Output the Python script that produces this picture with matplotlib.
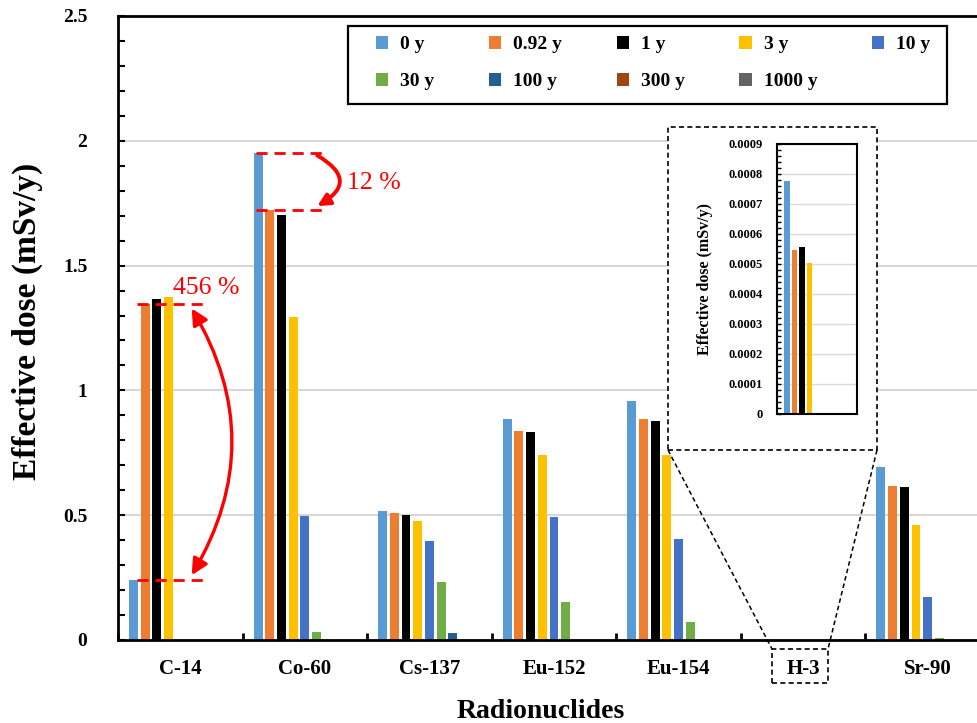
import numpy as np
import matplotlib.pyplot as plt
from matplotlib.patches import FancyArrowPatch, Rectangle
from matplotlib.lines import Line2D
from matplotlib.ticker import MultipleLocator, AutoMinorLocator, FuncFormatter

plt.rcParams['font.family'] = ['Liberation Serif', 'DejaVu Serif']

# data (mSv/y)
nuclides = ["C-14", "Co-60", "Cs-137", "Eu-152", "Eu-154", "H-3", "Sr-90"]
periods = ["0 y", "0.92 y", "1 y", "3 y", "10 y", "30 y", "100 y", "300 y", "1000 y"]
colors = ["#5B9BD5", "#ED7D31", "#000000", "#FFC000", "#4472C4",
          "#70AD47", "#255E91", "#9E480E", "#636363"]

dose_0y = [0.240, 1.952, 0.518, 0.884, 0.959, 0.000778, 0.692]
dose_092y = [1.348, 1.723, 0.507, 0.836, 0.884, 0.000547, 0.618]
dose_1y = [1.366, 1.703, 0.502, 0.832, 0.879, 0.000556, 0.613]
dose_3y = [1.373, 1.293, 0.475, 0.740, 0.740, 0.000503, 0.459]
dose_10y = [0, 0.498, 0.395, 0.493, 0.406, 0, 0.174]
dose_30y = [0, 0.031, 0.232, 0.152, 0.072, 0, 0.009]
dose_100y = [0, 0, 0.029, 0, 0, 0, 0]
dose_300y = [0, 0, 0, 0, 0, 0, 0]
dose_1000y = [0, 0, 0, 0, 0, 0, 0]

series = [dose_0y, dose_092y, dose_1y, dose_3y, dose_10y,
          dose_30y, dose_100y, dose_300y, dose_1000y]

W, H = 977, 723
fig = plt.figure(figsize=(W / 100, H / 100), dpi=100)


def fx(px):
    return px / W


def fy(py):
    return (H - py) / H


ax = fig.add_axes([fx(118), fy(640), (990 - 118) / W, (640 - 16) / H])

x = np.arange(len(nuclides))
pitch = 0.094
bw = 0.072
n = len(series)
bars = []
for i, (vals, c, lab) in enumerate(zip(series, colors, periods)):
    b = ax.bar(x + (i - (n - 1) / 2) * pitch, vals, bw, color=c, label=lab, linewidth=0)
    bars.append(b)

ax.set_xlim(-0.5, len(nuclides) - 0.5)
ax.set_ylim(0, 2.5)
ax.yaxis.set_major_locator(MultipleLocator(0.5))
ax.yaxis.set_minor_locator(MultipleLocator(0.1))
ax.yaxis.set_major_formatter(FuncFormatter(lambda v, _: f"{v:g}"))
ax.set_xticks(x)
ax.set_xticklabels(nuclides)
ax.set_xticks(np.arange(len(nuclides) + 1) - 0.5, minor=True)
ax.tick_params(axis='x', which='major', length=0, pad=14, labelsize=15)
ax.tick_params(axis='x', which='minor', direction='in', length=5, width=2)
ax.tick_params(axis='y', which='both', direction='in', length=5, width=1.5, pad=22, labelsize=14)
for lbl in ax.get_xticklabels() + ax.get_yticklabels():
    lbl.set_fontweight('bold')
ax.grid(axis='y', which='major', color='#d0d0d0', linewidth=1.2)
ax.set_axisbelow(True)
for s in ax.spines.values():
    s.set_linewidth(2)

ax.set_ylabel("Effective dose (mSv/y)", fontsize=24, fontweight='bold')
ax.yaxis.set_label_coords(-0.086, 0.51)
ax.set_xlabel("Radionuclides", fontsize=20, fontweight='bold')
ax.xaxis.set_label_coords(0.485, -0.095)

# legend: row-wise order like the original (matplotlib fills by column)
order = [0, 5, 1, 6, 2, 7, 3, 8, 4]
leg = ax.legend(handles=[bars[k] for k in order], ncol=5, loc='center', mode='expand',
                bbox_to_anchor=(fx(368), fy(102), (938 - 368) / W, (102 - 24) / H),
                bbox_transform=fig.transFigure, frameon=False,
                prop={'weight': 'bold', 'size': 14},
                handlelength=0.65, handleheight=0.65, handletextpad=0.6,
                labelspacing=1.0, borderpad=0.4, borderaxespad=0)
fig.add_artist(Rectangle((fx(348), fy(104)), (947 - 348) / W, (104 - 26) / H,
                         transform=fig.transFigure, fill=False, edgecolor='black', lw=1.6))

# percentage annotations
i_c14 = nuclides.index("C-14")
i_co = nuclides.index("Co-60")
for yv in (dose_092y[i_c14], dose_0y[i_c14]):
    ax.plot([i_c14 - 0.345, i_c14 + 0.185], [yv, yv], color='red', lw=2,
            dashes=(4, 2.5), clip_on=False, zorder=4)
for yv in (dose_0y[i_co], dose_092y[i_co]):
    ax.plot([i_co - 0.39, i_co + 0.145], [yv, yv], color='red', lw=2,
            dashes=(4, 2.5), clip_on=False, zorder=4)

ax.add_patch(FancyArrowPatch((i_c14 + 0.08, dose_0y[i_c14] + 0.01),
                             (i_c14 + 0.08, dose_092y[i_c14] - 0.01),
                             connectionstyle="arc3,rad=0.3", arrowstyle="<|-|>",
                             mutation_scale=24, color='red', lw=2.4, zorder=5))
ax.add_patch(FancyArrowPatch((i_co + 0.08, dose_0y[i_co] - 0.005),
                             (i_co + 0.08, dose_092y[i_co] + 0.01),
                             connectionstyle="arc3,rad=-0.9", arrowstyle="-|>",
                             mutation_scale=18, color='red', lw=2.8, zorder=5))
ax.text(i_c14 - 0.055, 1.41, "456 %", color='red', fontsize=18.5, va='center', ha='left')
ax.text(i_co + 0.337, 1.83, "12 %", color='red', fontsize=18.5, va='center', ha='left')

# zoom box for H-3
box = Rectangle((fx(668), fy(450)), (877 - 668) / W, (450 - 127) / H,
                transform=fig.transFigure, facecolor='white', edgecolor='black',
                lw=1.2, ls=(0, (3, 2)), zorder=2)
fig.add_artist(box)
fig.add_artist(Rectangle((fx(772), fy(683)), (828 - 772) / W, (683 - 649) / H,
                         transform=fig.transFigure, fill=False, edgecolor='black',
                         lw=1.2, ls=(0, (3, 2)), zorder=2))
fig.add_artist(Line2D([fx(668), fx(772)], [fy(450), fy(649)], transform=fig.transFigure,
                      color='black', lw=1.1, ls=(0, (3, 2)), zorder=2))
fig.add_artist(Line2D([fx(877), fx(828)], [fy(450), fy(649)], transform=fig.transFigure,
                      color='black', lw=1.1, ls=(0, (3, 2)), zorder=2))

ins = fig.add_axes([fx(777), fy(414), 80 / W, (414 - 144) / H], zorder=3)
i_h3 = nuclides.index("H-3")
for i, (vals, c) in enumerate(zip(series, colors)):
    ins.bar((i - (n - 1) / 2) * pitch, vals[i_h3], bw, color=c, linewidth=0)
ins.set_xlim(-0.5, 0.5)
ins.set_ylim(0, 0.0009)
ins.set_xticks([])
ins.yaxis.set_major_locator(MultipleLocator(0.0001))
ins.yaxis.set_minor_locator(AutoMinorLocator(5))
ins.yaxis.set_major_formatter(FuncFormatter(lambda v, _: "0" if abs(v) < 1e-9 else f"{v:.4f}"))
ins.tick_params(axis='y', which='both', direction='in', length=3, width=1, pad=10, labelsize=9)
for lbl in ins.get_yticklabels():
    lbl.set_fontweight('bold')
ins.grid(axis='y', color='#d9d9d9', linewidth=1)
ins.set_axisbelow(True)
for s in ins.spines.values():
    s.set_linewidth(1.5)
ins.set_ylabel("Effective dose (mSv/y)", fontsize=11.5, fontweight='bold')
ins.yaxis.set_label_coords(-0.8, 0.5)

fig.savefig("out.png", dpi=100)
